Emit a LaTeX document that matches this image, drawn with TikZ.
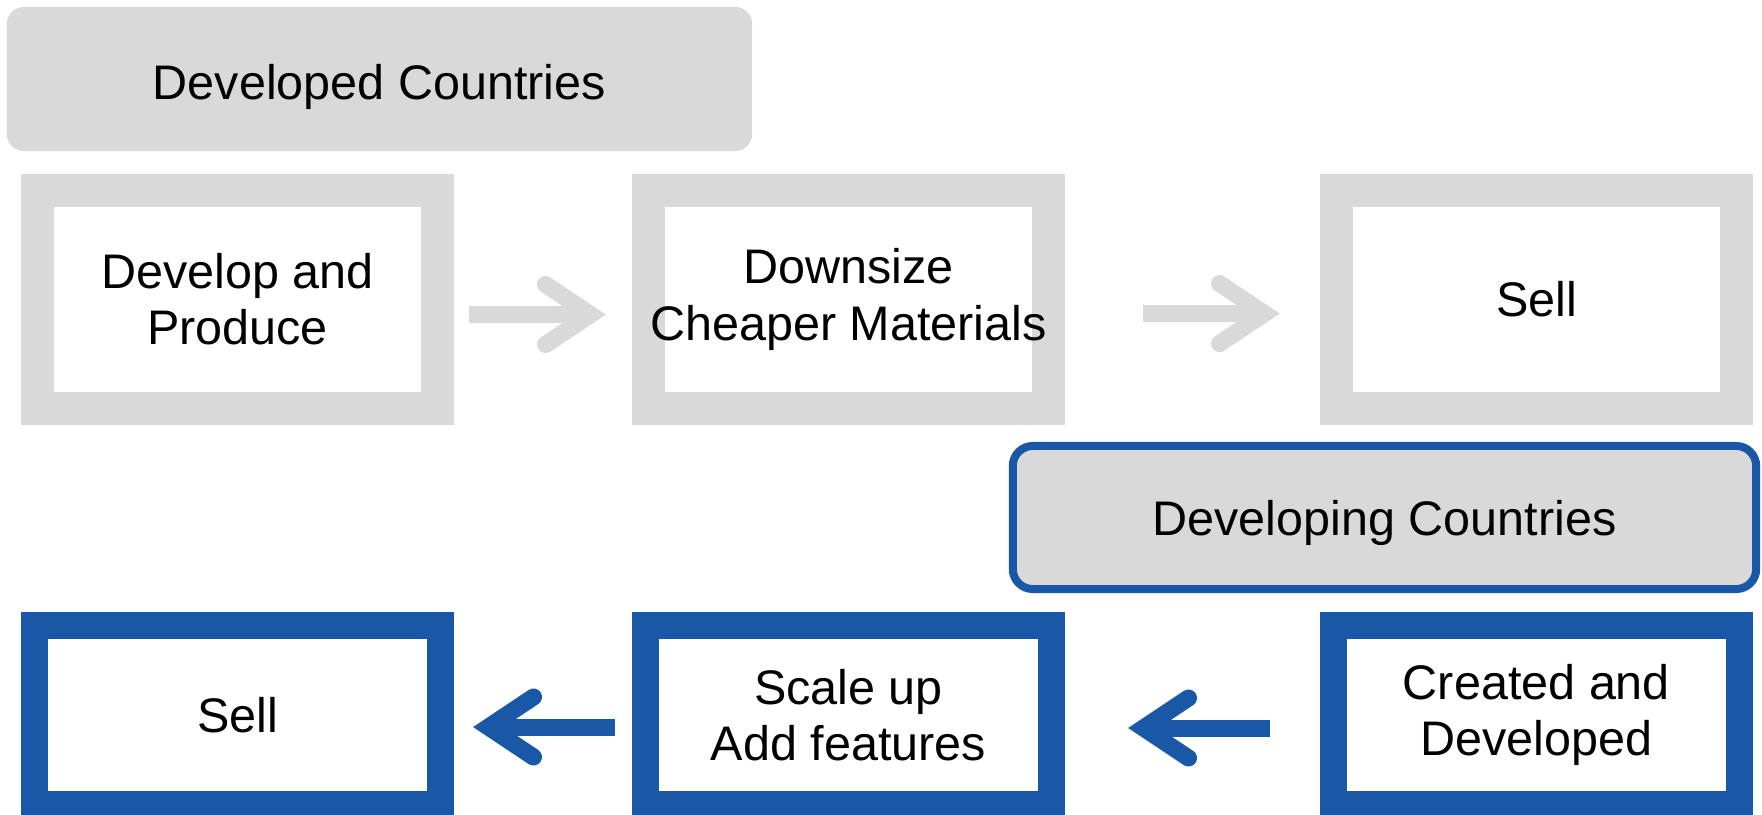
\documentclass[tikz,border=0pt]{standalone}
\usepackage{fontspec}
\setmainfont{Liberation Sans}
\usetikzlibrary{arrows.meta}
\definecolor{boxgray}{HTML}{D9D9D9}
\definecolor{boxblue}{RGB}{25,88,167}
\newcommand{\gnode}[3]{\node(#1)[gitem] at (#2){#3}}
\newcommand{\bnode}[3]{\node(#1)[bitem] at (#2){#3}}

\begin{document}
\begin{tikzpicture}[
        x=0.01cm, y=-0.01cm,
        every node/.style={font={\fontsize{13.8}{16}\selectfont}, align=center, inner sep=0pt},
        header/.style={rectangle, fill=boxgray, minimum height=1.44cm, minimum width=7.45cm,
                       rounded corners=0.17cm, text depth=0.1cm},
        gitem/.style={rectangle, minimum height=2.18cm, minimum width=4cm,
                      line width=0.33cm, draw=boxgray, fill=white},
        bitem/.style={rectangle, minimum height=1.78cm, minimum width=4.06cm,
                      line width=0.27cm, draw=boxblue, fill=white},
        garrow/.style={draw=boxgray, line width=0.17cm,
                       -{Straight Barb[length=0.45cm, width=0.6cm, line cap=round, line join=miter]}},
        barrow/.style={garrow, draw=boxblue}
      ]
      \useasboundingbox (0,0) rectangle (1762,814);
      % developed countries
      \node(hdra)[header, text height=0.5cm] at (379.5,79) {Developed Countries};
      \gnode{dp}{237.5,299.5}{Develop and\\Produce};
      \gnode{dc}{848.5,299.5}{Downsize\\Cheaper Materials};
      \gnode{sella}{1536.5,299.5}{Sell};
      % developing countries
      \node(hdrb)[header, text height=0.45cm, draw=boxblue, line width=0.08cm, minimum width=7.43cm,
                  minimum height=1.43cm, rounded corners=0.2cm] at (1384.5,517.5) {Developing Countries};
      \bnode{cd}{1536.5,715}{Created and\\Developed};
      \bnode{su}{848.5,715}{Scale up\\Add features};
      \bnode{sellb}{237.5,715}{Sell};

      \draw[garrow, shorten <=0.15cm, shorten >=0.26cm] ([yshift=-0.15cm]dp.east) -- ([yshift=-0.15cm]dc.west);
      \draw[garrow, shorten <=0.78cm, shorten >=0.40cm] ([yshift=-0.14cm]dc.east) -- ([yshift=-0.14cm]sella.west);
      \draw[barrow, shorten <=0.50cm, shorten >=0.63cm] ([yshift=-0.13cm]cd.west) -- ([yshift=-0.13cm]su.east);
      \draw[barrow, shorten <=0.17cm, shorten >=0.19cm] ([yshift=-0.12cm]su.west) -- ([yshift=-0.12cm]sellb.east);
    \end{tikzpicture}
\end{document}
